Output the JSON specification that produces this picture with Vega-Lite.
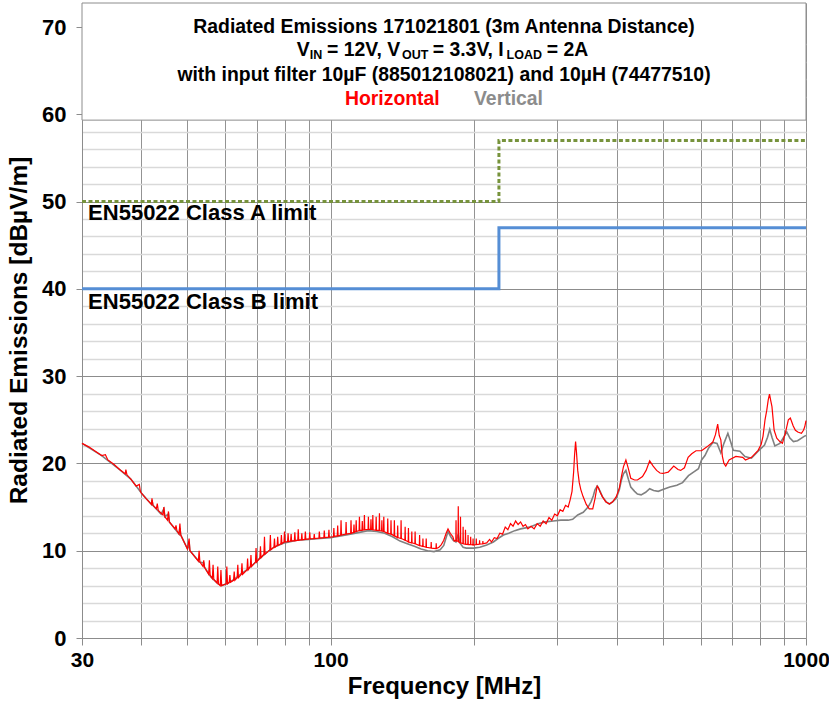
{
  "$schema": "https://vega.github.io/schema/vega-lite/v6.json",
  "width": 724,
  "height": 635,
  "autosize": {"type": "none"},
  "padding": {"left": 82, "top": 3, "right": 23, "bottom": 66},
  "background": "white",
  "config": {"view": {"stroke": null}, "font": "Liberation Sans"},
  "datasets": {
    "horizontal": [
      {"f":30,"v":22.3},{"f":31,"v":21.9},{"f":32,"v":21.4},{"f":33,"v":20.9},{"f":33.6,"v":21.0},{"f":34,"v":20.4},{"f":35,"v":19.9},{"f":36,"v":19.3},{"f":37,"v":18.8},{"f":37.1,"v":19.3},{"f":37.3,"v":18.7},{"f":38,"v":18.2},{"f":39,"v":17.4},{"f":39.6,"v":17.6},{"f":39.8,"v":16.8},{"f":40,"v":16.6},{"f":41,"v":15.9},{"f":42,"v":15.3},{"f":42.1,"v":16.0},{"f":42.3,"v":15.2},{"f":43,"v":14.8},{"f":43.2,"v":15.4},{"f":43.4,"v":14.6},{"f":44.4,"v":14.1},{"f":44.6,"v":15.0},{"f":44.8,"v":13.9},{"f":45.4,"v":13.5},{"f":45.6,"v":14.5},{"f":45.8,"v":13.3},{"f":47.1,"v":12.5},{"f":47.3,"v":12.9},{"f":47.5,"v":12.3},{"f":48,"v":11.9},{"f":48.2,"v":13.1},{"f":48.4,"v":11.8},{"f":50,"v":10.2},{"f":50.4,"v":11.4},{"f":50.6,"v":10.0},{"f":52.7,"v":8.8},{"f":52.9,"v":10.0},{"f":53.1,"v":8.7},{"f":53.9,"v":8.2},{"f":54.1,"v":8.9},{"f":54.3,"v":8.1},{"f":55.4,"v":7.3},{"f":55.6,"v":8.9},{"f":55.8,"v":7.2},{"f":56.4,"v":6.8},{"f":56.6,"v":8.4},{"f":56.8,"v":6.7},{"f":57.7,"v":6.3},{"f":57.9,"v":8.2},{"f":58.1,"v":6.2},{"f":58.6,"v":6.0},{"f":58.8,"v":7.8},{"f":59,"v":6.0},{"f":60.3,"v":6.2},{"f":60.5,"v":8.2},{"f":60.7,"v":6.2},{"f":61.2,"v":6.4},{"f":61.4,"v":7.2},{"f":61.6,"v":6.4},{"f":62.5,"v":6.6},{"f":62.7,"v":7.6},{"f":62.9,"v":6.6},{"f":63.6,"v":6.9},{"f":63.8,"v":8.4},{"f":64,"v":6.9},{"f":64.9,"v":7.3},{"f":65.1,"v":8.55},{"f":65.3,"v":7.3},{"f":66.7,"v":7.8},{"f":66.9,"v":9.1},{"f":67.1,"v":7.8},{"f":67.8,"v":8.2},{"f":68,"v":9.5},{"f":68.2,"v":8.2},{"f":69.5,"v":8.7},{"f":69.7,"v":10.3},{"f":69.9,"v":8.7},{"f":71,"v":9.2},{"f":71.2,"v":10.5},{"f":71.4,"v":9.2},{"f":72.4,"v":9.6},{"f":72.6,"v":11.6},{"f":72.8,"v":9.6},{"f":74.5,"v":10.1},{"f":74.7,"v":11.8},{"f":74.9,"v":10.1},{"f":76,"v":10.4},{"f":76.2,"v":11.4},{"f":76.4,"v":10.4},{"f":77.2,"v":10.6},{"f":77.4,"v":11.6},{"f":77.6,"v":10.6},{"f":78.6,"v":10.8},{"f":78.8,"v":11.8},{"f":79,"v":10.8},{"f":79.8,"v":11.0},{"f":80,"v":12.2},{"f":80.2,"v":11.0},{"f":81.2,"v":11.05},{"f":81.4,"v":12.0},{"f":81.6,"v":11.05},{"f":82.4,"v":11.1},{"f":82.6,"v":11.9},{"f":82.8,"v":11.1},{"f":83.9,"v":11.15},{"f":84.1,"v":12.1},{"f":84.3,"v":11.15},{"f":85.3,"v":11.2},{"f":85.5,"v":12.45},{"f":85.7,"v":11.2},{"f":86.8,"v":11.25},{"f":87,"v":12.0},{"f":87.2,"v":11.25},{"f":88.3,"v":11.3},{"f":88.5,"v":12.2},{"f":88.7,"v":11.3},{"f":90.2,"v":11.35},{"f":90.4,"v":12.1},{"f":90.6,"v":11.35},{"f":92.2,"v":11.4},{"f":92.4,"v":11.9},{"f":92.6,"v":11.4},{"f":94.5,"v":11.45},{"f":94.7,"v":12.2},{"f":94.9,"v":11.45},{"f":96.8,"v":11.5},{"f":97,"v":12.3},{"f":97.2,"v":11.5},{"f":99,"v":11.55},{"f":99.2,"v":12.4},{"f":99.4,"v":11.55},{"f":101.4,"v":11.6},{"f":101.6,"v":12.6},{"f":101.8,"v":11.65},{"f":103.3,"v":11.7},{"f":103.5,"v":12.9},{"f":103.7,"v":11.7},{"f":105,"v":11.8},{"f":105.2,"v":13.5},{"f":105.4,"v":11.8},{"f":107.6,"v":11.9},{"f":107.8,"v":13.3},{"f":108,"v":11.9},{"f":110.2,"v":12.0},{"f":110.4,"v":13.5},{"f":110.6,"v":12.0},{"f":111.8,"v":12.1},{"f":112,"v":13.0},{"f":112.2,"v":12.1},{"f":113,"v":12.2},{"f":113.2,"v":13.5},{"f":113.4,"v":12.2},{"f":114.8,"v":12.3},{"f":115,"v":13.9},{"f":115.2,"v":12.3},{"f":116.4,"v":12.35},{"f":116.6,"v":13.4},{"f":116.8,"v":12.35},{"f":117.6,"v":12.4},{"f":117.8,"v":14.1},{"f":118,"v":12.4},{"f":119.9,"v":12.45},{"f":120.1,"v":13.9},{"f":120.3,"v":12.45},{"f":121.4,"v":12.45},{"f":121.6,"v":13.6},{"f":121.8,"v":12.45},{"f":122.5,"v":12.4},{"f":122.7,"v":14.1},{"f":122.9,"v":12.4},{"f":124.5,"v":12.35},{"f":124.7,"v":13.9},{"f":124.9,"v":12.35},{"f":126.5,"v":12.3},{"f":126.7,"v":14.3},{"f":126.9,"v":12.3},{"f":128,"v":12.25},{"f":128.2,"v":13.5},{"f":128.4,"v":12.25},{"f":129.2,"v":12.2},{"f":129.4,"v":13.9},{"f":129.6,"v":12.2},{"f":131.7,"v":12.0},{"f":131.9,"v":13.7},{"f":132.1,"v":12.0},{"f":133.8,"v":11.9},{"f":134,"v":13.5},{"f":134.2,"v":11.9},{"f":136,"v":11.7},{"f":136.2,"v":13.5},{"f":136.4,"v":11.7},{"f":138.2,"v":11.5},{"f":138.4,"v":12.9},{"f":138.6,"v":11.5},{"f":140.5,"v":11.4},{"f":140.7,"v":13.5},{"f":140.9,"v":11.4},{"f":143.3,"v":11.2},{"f":143.5,"v":12.75},{"f":143.7,"v":11.2},{"f":145.6,"v":11.0},{"f":145.8,"v":12.6},{"f":146,"v":11.0},{"f":148,"v":10.9},{"f":148.2,"v":12.2},{"f":148.4,"v":10.9},{"f":150.4,"v":10.8},{"f":150.6,"v":12.2},{"f":150.8,"v":10.8},{"f":153.7,"v":10.6},{"f":153.9,"v":11.8},{"f":154.1,"v":10.6},{"f":156.2,"v":10.5},{"f":156.4,"v":11.4},{"f":156.6,"v":10.5},{"f":158.7,"v":10.4},{"f":158.9,"v":11.4},{"f":159.1,"v":10.4},{"f":162.6,"v":10.3},{"f":162.8,"v":11.0},{"f":163,"v":10.3},{"f":166.6,"v":10.25},{"f":166.8,"v":10.85},{"f":167,"v":10.25},{"f":169,"v":10.4},{"f":171,"v":10.7},{"f":173,"v":11.2},{"f":175,"v":12.0},{"f":176.6,"v":12.5},{"f":178.5,"v":12.0},{"f":180.8,"v":11.6},{"f":182,"v":11.1},{"f":183.4,"v":11.2},{"f":183.6,"v":13.5},{"f":183.8,"v":11.1},{"f":185.4,"v":11.1},{"f":185.6,"v":15.1},{"f":185.8,"v":11.0},{"f":187.4,"v":10.9},{"f":187.6,"v":13.9},{"f":187.8,"v":10.9},{"f":189.8,"v":10.8},{"f":190,"v":12.75},{"f":190.2,"v":10.8},{"f":192,"v":10.75},{"f":192.2,"v":12.4},{"f":192.4,"v":10.75},{"f":194.4,"v":10.7},{"f":194.6,"v":11.8},{"f":194.8,"v":10.7},{"f":196.9,"v":10.7},{"f":197.1,"v":11.6},{"f":197.3,"v":10.7},{"f":199.2,"v":10.65},{"f":199.4,"v":11.4},{"f":199.6,"v":10.65},{"f":202.3,"v":10.7},{"f":202.5,"v":11.4},{"f":202.7,"v":10.7},{"f":205.6,"v":10.75},{"f":205.8,"v":11.2},{"f":206,"v":10.75},{"f":208.9,"v":10.8},{"f":209.1,"v":11.1},{"f":209.3,"v":10.8},{"f":213,"v":10.9},{"f":216,"v":11.3},{"f":218,"v":11.0},{"f":221,"v":11.5},{"f":224,"v":11.4},{"f":227,"v":12.0},{"f":230,"v":11.9},{"f":233,"v":12.7},{"f":236,"v":12.4},{"f":239,"v":13.1},{"f":242,"v":12.8},{"f":245,"v":13.4},{"f":248,"v":13.0},{"f":251,"v":13.3},{"f":254,"v":12.8},{"f":257,"v":13.0},{"f":260,"v":12.5},{"f":264,"v":12.8},{"f":268,"v":12.5},{"f":272,"v":13.1},{"f":276,"v":12.8},{"f":280,"v":13.4},{"f":284,"v":13.1},{"f":288,"v":13.8},{"f":292,"v":13.5},{"f":296,"v":14.2},{"f":300,"v":14.0},{"f":304,"v":14.7},{"f":308,"v":14.5},{"f":312,"v":15.2},{"f":316,"v":15.0},{"f":319,"v":15.8},{"f":322,"v":16.8},{"f":324.5,"v":19.0},{"f":326,"v":21.0},{"f":327.6,"v":22.5},{"f":329,"v":21.3},{"f":331,"v":19.2},{"f":333.5,"v":17.8},{"f":336,"v":17.0},{"f":339.7,"v":16.2},{"f":345,"v":15.3},{"f":350,"v":14.8},{"f":356,"v":14.8},{"f":360,"v":16.0},{"f":363.6,"v":17.4},{"f":366,"v":17.2},{"f":369,"v":16.7},{"f":373,"v":16.2},{"f":379,"v":15.6},{"f":386,"v":15.35},{"f":392,"v":15.6},{"f":399,"v":16.2},{"f":405,"v":17.2},{"f":409,"v":18.5},{"f":413,"v":19.6},{"f":418,"v":20.4},{"f":423,"v":19.4},{"f":428,"v":18.3},{"f":436,"v":18.1},{"f":442,"v":18.1},{"f":453,"v":18.5},{"f":461,"v":19.2},{"f":469,"v":20.3},{"f":477,"v":19.7},{"f":485,"v":19.2},{"f":493,"v":18.9},{"f":500,"v":18.85},{"f":513,"v":19.0},{"f":527,"v":19.7},{"f":538,"v":19.3},{"f":545,"v":19.2},{"f":555,"v":19.5},{"f":565,"v":20.7},{"f":575,"v":21.1},{"f":587,"v":21.45},{"f":603,"v":21.45},{"f":619,"v":21.9},{"f":637,"v":22.45},{"f":645,"v":23.3},{"f":652,"v":24.5},{"f":657,"v":23.2},{"f":662,"v":22.7},{"f":667,"v":20.8},{"f":672,"v":20.0},{"f":678,"v":19.7},{"f":689,"v":20.4},{"f":712,"v":20.8},{"f":736,"v":20.7},{"f":746,"v":20.4},{"f":768,"v":20.7},{"f":793,"v":21.5},{"f":805,"v":22.2},{"f":812,"v":23.1},{"f":820,"v":25.0},{"f":827,"v":26.1},{"f":833,"v":27.3},{"f":838,"v":27.95},{"f":843,"v":27.2},{"f":848,"v":26.5},{"f":857,"v":23.8},{"f":868,"v":22.9},{"f":881,"v":22.5},{"f":892,"v":22.3},{"f":905,"v":23.5},{"f":911,"v":24.2},{"f":918,"v":25.0},{"f":927,"v":25.2},{"f":940,"v":24.3},{"f":950,"v":23.8},{"f":961,"v":23.6},{"f":978,"v":23.45},{"f":988,"v":23.8},{"f":994,"v":24.2},{"f":1000,"v":24.9}
    ],
    "vertical": [
      {"f":30,"v":22.3},{"f":33,"v":20.9},{"f":36,"v":19.3},{"f":38,"v":18.2},{"f":40,"v":16.6},{"f":42,"v":15.3},{"f":42.1,"v":15.8},{"f":42.3,"v":15.2},{"f":44,"v":14.2},{"f":44.6,"v":14.8},{"f":44.8,"v":13.9},{"f":45.6,"v":14.2},{"f":45.8,"v":13.3},{"f":48,"v":11.9},{"f":48.2,"v":12.6},{"f":48.4,"v":11.8},{"f":50,"v":10.2},{"f":50.4,"v":10.9},{"f":50.6,"v":10.0},{"f":53,"v":8.7},{"f":54.1,"v":8.6},{"f":54.3,"v":8.1},{"f":56,"v":7.0},{"f":58,"v":6.2},{"f":59,"v":6.0},{"f":61,"v":6.3},{"f":63,"v":6.8},{"f":65,"v":7.4},{"f":67,"v":7.9},{"f":70,"v":8.8},{"f":73,"v":9.7},{"f":76,"v":10.4},{"f":80,"v":10.9},{"f":85,"v":11.2},{"f":90,"v":11.3},{"f":95,"v":11.4},{"f":100,"v":11.5},{"f":105,"v":11.7},{"f":110,"v":11.9},{"f":115,"v":12.1},{"f":120,"v":12.3},{"f":125,"v":12.2},{"f":130,"v":12.0},{"f":135,"v":11.6},{"f":140,"v":11.1},{"f":145,"v":10.8},{"f":150,"v":10.5},{"f":155,"v":10.2},{"f":160,"v":10.0},{"f":165,"v":9.9},{"f":170,"v":10.1},{"f":173,"v":10.6},{"f":176.6,"v":12.2},{"f":179,"v":11.6},{"f":181,"v":11.2},{"f":183.5,"v":11.0},{"f":185.6,"v":11.9},{"f":187,"v":10.9},{"f":190,"v":10.4},{"f":193,"v":10.3},{"f":200,"v":10.3},{"f":206,"v":10.4},{"f":213,"v":10.65},{"f":220,"v":11.0},{"f":225,"v":11.4},{"f":231,"v":11.8},{"f":237,"v":12.0},{"f":244,"v":12.3},{"f":251,"v":12.5},{"f":262,"v":12.7},{"f":273,"v":13.1},{"f":283,"v":13.3},{"f":294,"v":13.4},{"f":305,"v":13.5},{"f":316,"v":13.5},{"f":323,"v":13.6},{"f":331,"v":14.1},{"f":340,"v":14.4},{"f":348,"v":15.0},{"f":353,"v":15.6},{"f":357,"v":16.3},{"f":360,"v":17.0},{"f":364,"v":17.4},{"f":369,"v":16.8},{"f":373,"v":16.2},{"f":380,"v":15.6},{"f":386,"v":15.35},{"f":392,"v":15.6},{"f":399,"v":16.0},{"f":405,"v":17.0},{"f":409,"v":18.1},{"f":413,"v":18.8},{"f":418,"v":19.2},{"f":423,"v":18.2},{"f":428,"v":17.3},{"f":436,"v":16.8},{"f":442,"v":16.5},{"f":450,"v":16.4},{"f":460,"v":16.7},{"f":469,"v":17.1},{"f":478,"v":16.9},{"f":489,"v":16.8},{"f":500,"v":17.0},{"f":517,"v":17.3},{"f":535,"v":17.5},{"f":550,"v":17.8},{"f":566,"v":18.6},{"f":580,"v":19.0},{"f":594,"v":19.4},{"f":603,"v":20.4},{"f":613,"v":20.9},{"f":623,"v":21.7},{"f":637,"v":22.4},{"f":650,"v":22.3},{"f":662,"v":21.2},{"f":672,"v":22.3},{"f":685,"v":23.45},{"f":695,"v":22.4},{"f":703,"v":21.5},{"f":726,"v":21.4},{"f":744,"v":20.8},{"f":768,"v":20.6},{"f":793,"v":21.4},{"f":818,"v":22.1},{"f":830,"v":23.0},{"f":839,"v":23.9},{"f":848,"v":23.0},{"f":860,"v":22.0},{"f":881,"v":22.3},{"f":895,"v":22.9},{"f":911,"v":23.6},{"f":925,"v":22.9},{"f":941,"v":22.5},{"f":960,"v":22.6},{"f":991,"v":23.1},{"f":1000,"v":23.2}
    ],
    "limits": [
      {"lim":"B","i":0,"f":30,"v":40},{"lim":"B","i":1,"f":226,"v":40},{"lim":"B","i":2,"f":226,"v":47},{"lim":"B","i":3,"f":1000,"v":47},
      {"lim":"A","i":0,"f":30,"v":50},{"lim":"A","i":1,"f":226,"v":50},{"lim":"A","i":2,"f":226,"v":57},{"lim":"A","i":3,"f":1000,"v":57}
    ],
    "box": [{"f":30,"f2":1000,"v":59.33,"v2":72.75}],
    "titleLines": [
      {"t":"Radiated Emissions 171021801 (3m Antenna Distance)","f":173.2,"v":69.28},
      {"t":"with input filter 10µF (885012108021) and 10µH (74477510)","f":173.2,"v":63.87}
    ],
    "mainPieces": [
      {"t":"V","f":84.87,"v":66.73},
      {"t":"= 12V, V","f":98.3,"v":66.73},
      {"t":"= 3.3V, I","f":164.0,"v":66.73},
      {"t":"= 2A","f":285.0,"v":66.73}
    ],
    "subPieces": [
      {"t":"IN","f":90.36,"v":66.73},
      {"t":"OUT","f":141.3,"v":66.73},
      {"t":"LOAD","f":234.5,"v":66.73}
    ],
    "legendText": [
      {"t":"Horizontal","s":"Horizontal","f":107.2,"v":61.12},
      {"t":"Vertical","s":"Vertical","f":200.3,"v":61.12}
    ],
    "limitLabels": [
      {"t":"EN55022 Class A limit","f":30.9,"v":48.66},
      {"t":"EN55022 Class B limit","f":30.9,"v":38.53}
    ]
  },
  "encoding": {
    "x": {
      "field": "f", "type": "quantitative",
      "scale": {"type": "log", "domain": [30, 1000], "nice": false},
      "axis": {
        "title": "Frequency [MHz]",
        "values": [30,40,50,60,70,80,90,100,200,300,400,500,600,700,800,900,1000],
        "format": "d",
        "labelExpr": "(datum.value === 30 || datum.value === 100 || datum.value === 1000) ? datum.label : ''",
        "labelFont": "Liberation Sans", "labelFontSize": 21, "labelFontWeight": "bold", "labelColor": "#000000",
        "labelPadding": 4, "labelOverlap": false, "labelBound": false, "labelFlush": false,
        "tickSize": 7, "tickColor": "#8c8c8c", "tickWidth": 1,
        "domainColor": "#8c8c8c", "domainWidth": 1,
        "grid": true, "gridColor": "#939393", "gridWidth": 1,
        "titleFont": "Liberation Sans", "titleFontSize": 24, "titleFontWeight": "bold", "titleColor": "#000000", "titlePadding": 4
      }
    },
    "y": {
      "field": "v", "type": "quantitative",
      "scale": {"domain": [0, 72.75], "nice": false, "zero": true},
      "axis": {
        "title": "Radiated Emissions [dBµV/m]",
        "values": [0,2,4,6,8,10,12,14,16,18,20,22,24,26,28,30,32,34,36,38,40,42,44,46,48,50,52,54,56,58,60,62,64,66,68,70],
        "labelExpr": "datum.value % 10 === 0 ? datum.label : ''",
        "labelFont": "Liberation Sans", "labelFontSize": 22, "labelFontWeight": "bold", "labelColor": "#000000",
        "labelPadding": 10, "labelOverlap": false,
        "tickSize": 6, "tickColor": "#8c8c8c",
        "tickOpacity": {"condition": {"test": "datum.value % 10 === 0", "value": 1}, "value": 0},
        "grid": true,
        "gridColor": {"condition": {"test": "datum.value % 10 === 0", "value": "#8c8c8c"}, "value": "#d9d9d9"},
        "gridWidth": {"condition": {"test": "datum.value % 10 === 0", "value": 1}, "value": 1.5},
        "domainColor": "#8c8c8c",
        "titleFont": "Liberation Sans", "titleFontSize": 24.5, "titleFontWeight": "bold", "titleColor": "#000000", "titlePadding": 10,
        "titleY": 327
      }
    }
  },
  "layer": [
    {
      "data": {"name": "limits"},
      "transform": [{"filter": "datum.lim === 'B'"}],
      "mark": {"type": "line", "color": "#558ED5", "strokeWidth": 3},
      "encoding": {"order": {"field": "i", "type": "quantitative"}}
    },
    {
      "data": {"name": "limits"},
      "transform": [{"filter": "datum.lim === 'A'"}],
      "mark": {"type": "line", "color": "#77933C", "strokeWidth": 3, "strokeDash": [4, 2.5], "strokeCap": "butt"},
      "encoding": {"order": {"field": "i", "type": "quantitative"}}
    },
    {
      "data": {"name": "vertical"},
      "mark": {"type": "line", "color": "#808080", "strokeWidth": 1.6},
      "encoding": {}
    },
    {
      "data": {"name": "horizontal"},
      "mark": {"type": "line", "color": "#FF0000", "strokeWidth": 1.2},
      "encoding": {}
    },
    {
      "data": {"name": "box"},
      "mark": {"type": "rect", "fill": "#ffffff", "stroke": "#8c8c8c", "strokeWidth": 1},
      "encoding": {"x2": {"field": "f2"}, "y2": {"field": "v2"}}
    },
    {
      "data": {"name": "titleLines"},
      "mark": {"type": "text", "align": "center", "baseline": "alphabetic", "fontSize": 19.4, "fontWeight": "bold", "font": "Liberation Sans", "color": "#000000"},
      "encoding": {"text": {"field": "t"}}
    },
    {
      "data": {"name": "mainPieces"},
      "mark": {"type": "text", "align": "left", "baseline": "alphabetic", "fontSize": 19.4, "fontWeight": "bold", "font": "Liberation Sans", "color": "#000000"},
      "encoding": {"text": {"field": "t"}}
    },
    {
      "data": {"name": "subPieces"},
      "mark": {"type": "text", "align": "left", "baseline": "alphabetic", "dy": 3.5, "fontSize": 12.5, "fontWeight": "bold", "font": "Liberation Sans", "color": "#000000"},
      "encoding": {"text": {"field": "t"}}
    },
    {
      "data": {"name": "legendText"},
      "mark": {"type": "text", "align": "left", "baseline": "alphabetic", "fontSize": 19.4, "fontWeight": "bold", "font": "Liberation Sans"},
      "encoding": {
        "text": {"field": "t"},
        "color": {"field": "s", "type": "nominal", "scale": {"domain": ["Horizontal", "Vertical"], "range": ["#FF0000", "#8c8c8c"]}, "legend": null}
      }
    },
    {
      "data": {"name": "limitLabels"},
      "mark": {"type": "text", "align": "left", "baseline": "middle", "fontSize": 22, "fontWeight": "bold", "font": "Liberation Sans", "color": "#000000"},
      "encoding": {"text": {"field": "t"}}
    }
  ]
}
